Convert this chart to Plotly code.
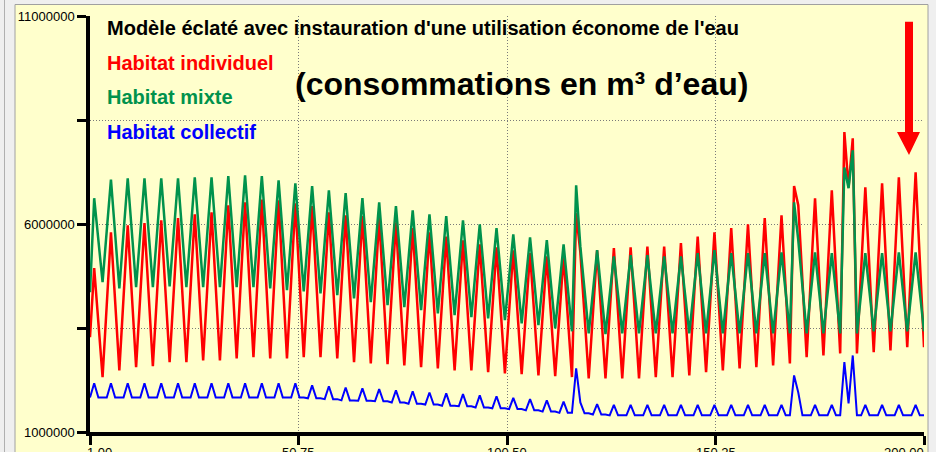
import plotly.graph_objects as go

# ---------------- data (values in millions of m3) ----------------
periods = list(range(1, 201))

habitat_individuel = [
    3.28, 4.94, 3.63, 2.32,
    4.06, 5.80, 4.14, 2.48,
    4.23, 5.97, 4.27, 2.56,
    4.29, 6.02, 4.30, 2.58,
    4.34, 6.09, 4.39, 2.68,
    4.41, 6.14, 4.41, 2.68,
    4.46, 6.23, 4.48, 2.72,
    4.50, 6.28, 4.50, 2.72,
    4.59, 6.45, 4.61, 2.77,
    4.65, 6.52, 4.66, 2.80,
    4.70, 6.59, 4.68, 2.77,
    4.67, 6.57, 4.67, 2.77,
    4.64, 6.50, 4.65, 2.80,
    4.62, 6.43, 4.62, 2.80,
    4.54, 6.28, 4.53, 2.77,
    4.49, 6.21, 4.45, 2.68,
    4.44, 6.19, 4.42, 2.65,
    4.40, 6.14, 4.39, 2.63,
    4.34, 6.04, 4.32, 2.60,
    4.25, 5.90, 4.23, 2.56,
    4.18, 5.80, 4.17, 2.53,
    4.12, 5.70, 4.09, 2.48,
    4.05, 5.61, 4.05, 2.48,
    4.00, 5.51, 3.98, 2.44,
    3.94, 5.44, 3.93, 2.41,
    3.89, 5.37, 3.88, 2.39,
    3.85, 5.30, 3.83, 2.36,
    3.79, 5.22, 3.78, 2.34,
    3.78, 5.22, 3.77, 2.32,
    6.26, 5.32, 3.81, 2.29,
    3.83, 5.37, 3.83, 2.29,
    3.86, 5.42, 3.86, 2.29,
    3.87, 5.44, 3.87, 2.29,
    3.88, 5.46, 3.89, 2.32,
    3.89, 5.46, 3.89, 2.32,
    3.93, 5.54, 3.95, 2.36,
    4.03, 5.70, 4.07, 2.44,
    4.12, 5.80, 4.14, 2.48,
    4.19, 5.90, 4.22, 2.53,
    4.26, 5.99, 4.28, 2.56,
    4.35, 6.14, 4.37, 2.60,
    4.41, 6.21, 4.43, 2.65,
    6.91, 6.45, 4.63, 2.80,
    4.71, 6.62, 4.73, 2.84,
    4.83, 6.81, 4.85, 2.89,
    8.21, 6.88, 8.06, 2.89,
    4.89, 6.88, 4.90, 2.92,
    4.95, 6.98, 4.97, 2.96,
    5.04, 7.12, 5.08, 3.04,
    5.14, 7.24, 5.14, 3.04,
]

habitat_mixte = [
    4.36, 6.62, 5.61, 4.60,
    5.84, 7.07, 5.76, 4.45,
    5.78, 7.10, 5.79, 4.48,
    5.79, 7.10, 5.79, 4.48,
    5.79, 7.10, 5.80, 4.50,
    5.80, 7.10, 5.79, 4.48,
    5.80, 7.12, 5.80, 4.48,
    5.80, 7.12, 5.80, 4.48,
    5.82, 7.15, 5.82, 4.48,
    5.83, 7.17, 5.83, 4.48,
    5.82, 7.15, 5.80, 4.45,
    5.75, 7.05, 5.73, 4.41,
    5.70, 6.98, 5.68, 4.38,
    5.65, 6.91, 5.62, 4.33,
    5.57, 6.81, 5.55, 4.29,
    5.52, 6.74, 5.48, 4.21,
    5.42, 6.62, 5.37, 4.12,
    5.32, 6.52, 5.29, 4.05,
    5.24, 6.43, 5.22, 4.00,
    5.17, 6.33, 5.13, 3.93,
    5.08, 6.23, 5.04, 3.85,
    5.02, 6.19, 5.00, 3.81,
    4.95, 6.09, 4.93, 3.76,
    4.88, 5.99, 4.86, 3.73,
    4.82, 5.90, 4.80, 3.69,
    4.72, 5.75, 4.68, 3.61,
    4.65, 5.68, 4.63, 3.57,
    4.59, 5.61, 4.55, 3.49,
    4.50, 5.51, 4.47, 3.42,
    6.93, 5.46, 4.42, 3.37,
    4.37, 5.37, 4.36, 3.35,
    4.29, 5.22, 4.30, 3.37,
    4.31, 5.25, 4.31, 3.37,
    4.31, 5.25, 4.31, 3.37,
    4.30, 5.22, 4.30, 3.37,
    4.30, 5.22, 4.30, 3.37,
    4.34, 5.30, 4.34, 3.37,
    4.37, 5.37, 4.37, 3.37,
    4.34, 5.30, 4.34, 3.37,
    4.34, 5.30, 4.34, 3.37,
    4.34, 5.30, 4.34, 3.37,
    4.35, 5.32, 4.35, 3.37,
    6.52, 5.61, 4.49, 3.37,
    4.35, 5.32, 4.35, 3.37,
    4.34, 5.30, 4.34, 3.37,
    7.36, 6.86, 7.77, 3.37,
    4.34, 5.30, 4.36, 3.42,
    4.36, 5.30, 4.36, 3.42,
    4.37, 5.32, 4.37, 3.42,
    4.37, 5.32, 4.37, 3.42,
]

habitat_collectif = [
    1.83, 2.17, 1.83, 1.83,
    1.83, 2.17, 1.83, 1.83,
    1.83, 2.17, 1.83, 1.83,
    1.83, 2.17, 1.83, 1.83,
    1.83, 2.17, 1.83, 1.83,
    1.83, 2.17, 1.83, 1.83,
    1.83, 2.17, 1.83, 1.83,
    1.83, 2.17, 1.83, 1.83,
    1.83, 2.17, 1.83, 1.83,
    1.83, 2.17, 1.83, 1.83,
    1.83, 2.17, 1.83, 1.83,
    1.83, 2.17, 1.83, 1.83,
    1.83, 2.17, 1.83, 1.83,
    1.81, 2.12, 1.81, 1.81,
    1.79, 2.10, 1.79, 1.79,
    1.76, 2.07, 1.76, 1.76,
    1.75, 2.05, 1.75, 1.75,
    1.74, 2.03, 1.74, 1.74,
    1.71, 2.00, 1.71, 1.71,
    1.68, 1.98, 1.68, 1.68,
    1.66, 1.95, 1.66, 1.66,
    1.63, 1.93, 1.63, 1.63,
    1.62, 1.91, 1.62, 1.62,
    1.59, 1.88, 1.59, 1.59,
    1.57, 1.86, 1.57, 1.57,
    1.55, 1.82, 1.55, 1.55,
    1.52, 1.79, 1.52, 1.52,
    1.49, 1.76, 1.49, 1.49,
    1.46, 1.73, 1.46, 1.46,
    2.53, 1.71, 1.45, 1.45,
    1.42, 1.67, 1.42, 1.42,
    1.40, 1.65, 1.40, 1.40,
    1.40, 1.65, 1.40, 1.40,
    1.40, 1.65, 1.40, 1.40,
    1.40, 1.65, 1.40, 1.40,
    1.40, 1.65, 1.40, 1.40,
    1.40, 1.65, 1.40, 1.40,
    1.40, 1.65, 1.40, 1.40,
    1.40, 1.65, 1.40, 1.40,
    1.40, 1.65, 1.40, 1.40,
    1.40, 1.65, 1.40, 1.40,
    1.40, 1.65, 1.40, 1.40,
    2.36, 1.95, 1.40, 1.40,
    1.40, 1.65, 1.40, 1.40,
    1.40, 1.65, 1.40, 1.40,
    2.68, 1.69, 2.84, 1.40,
    1.40, 1.65, 1.40, 1.40,
    1.40, 1.65, 1.40, 1.40,
    1.40, 1.65, 1.40, 1.40,
    1.40, 1.65, 1.40, 1.40,
]

x_tick_values = [1, 50.75, 100.5, 150.25, 200]
x_tick_labels = ["1.00", "50.75", "100.50", "150.25", "200.00"]
y_tick_values = [1000000, 3500000, 6000000, 8500000, 11000000]
y_tick_labels = ["1000000", "", "6000000", "", "11000000"]

# ---------------- styling ----------------
FONT = "Liberation Sans, Arial, sans-serif"
YELLOW = "#FFFFCC"
RED = "#FF0000"
GREEN = "#00924C"
BLUE = "#0000FF"

W, H = 936, 452
ML, MR, MT, MB = 90, 12, 16, 20
PL, PR, PT, PB = ML, W - MR, MT, H - MB


def px(xp):
    return (xp - PL) / (PR - PL)


def py(yp):
    return (PB - yp) / (PB - PT)


fig = go.Figure()
series = [
    ("Habitat individuel", habitat_individuel, RED, 2.5),
    ("Habitat mixte", habitat_mixte, GREEN, 2.5),
    ("Habitat collectif", habitat_collectif, BLUE, 2.0),
]
for name, vals, col, lw in series:
    fig.add_trace(go.Scatter(
        x=periods, y=[v * 1e6 for v in vals], mode="lines", name=name,
        line=dict(color=col, width=lw), showlegend=False,
    ))

axis_common = dict(
    showline=True, linecolor="black", linewidth=3.5,
    ticks="outside", ticklen=9, tickwidth=3, tickcolor="black",
    showgrid=True, gridcolor="#7A7A7A", gridwidth=1, griddash="1px,2px",
    zeroline=False, tickfont=dict(family=FONT, size=13, color="black"),
    mirror=False, automargin=False,
)
fig.update_xaxes(range=[1, 200], tickmode="array", tickvals=x_tick_values,
                 showticklabels=False, **axis_common)
fig.update_yaxes(range=[1000000, 11000000], tickmode="array", tickvals=y_tick_values,
                 ticktext=y_tick_labels, **axis_common)

# x tick labels (first one shifted right, last one right-aligned, as in the original)
n_lab = len(x_tick_labels)
for i, (tv, tl) in enumerate(zip(x_tick_values, x_tick_labels)):
    if i == 0:
        anchor, shift = "left", -5
    elif i == n_lab - 1:
        anchor, shift = "right", 2
    else:
        anchor, shift = "center", 0
    fig.add_annotation(text=tl, x=tv, xref="x", y=py(443), yref="paper",
                       xanchor=anchor, yanchor="top", xshift=shift, showarrow=False,
                       font=dict(family=FONT, size=13, color="black"))

annotations = [
    dict(text="<b>Modèle éclaté avec instauration d'une utilisation économe de l'eau</b>",
         x=px(105), y=py(28), color="black", size=20),
    dict(text="<b>Habitat individuel</b>", x=px(105), y=py(63.5), color=RED, size=20),
    dict(text="<b>Habitat mixte</b>", x=px(105), y=py(96.5), color=GREEN, size=20),
    dict(text="<b>Habitat collectif</b>", x=px(105), y=py(131.5), color=BLUE, size=20),
    dict(text="<b>(consommations en m³ d’eau)</b>", x=px(293), y=py(84), color="black", size=32),
]
for a in annotations:
    fig.add_annotation(text=a["text"], x=a["x"], y=a["y"], xref="paper", yref="paper",
                       xanchor="left", yanchor="middle", showarrow=False,
                       font=dict(family=FONT, size=a["size"], color=a["color"]))

# background panel
fig.add_shape(type="rect", xref="paper", yref="paper", layer="below",
              x0=px(15), x1=px(928), y0=py(470), y1=py(4.5),
              fillcolor=YELLOW, line=dict(color="#A0A0A0", width=1))
fig.add_shape(type="line", xref="paper", yref="paper", layer="below",
              x0=px(4.5), x1=px(4.5), y0=py(0), y1=py(470),
              line=dict(color="#B0B0B0", width=1))

# red arrow
ax0, ax1 = px(905), px(913)
fig.add_shape(type="path", xref="paper", yref="paper",
              path=(f"M {ax0} {py(21.7)} L {ax1} {py(21.7)} L {ax1} {py(132)} "
                    f"L {px(920)} {py(132)} L {px(909)} {py(155)} L {px(897)} {py(132)} "
                    f"L {ax0} {py(132)} Z"),
              fillcolor=RED, line=dict(color=RED, width=0))

fig.update_layout(
    width=W, height=H,
    margin=dict(l=ML, r=MR, t=MT, b=MB, pad=0, autoexpand=False),
    paper_bgcolor="#EFEFEF", plot_bgcolor="rgba(0,0,0,0)",
    font=dict(family=FONT),
)

fig.write_html(
    "out.html",
    config={"displayModeBar": False},
    post_script="document.body.style.margin='0';document.body.style.overflow='hidden';",
)
